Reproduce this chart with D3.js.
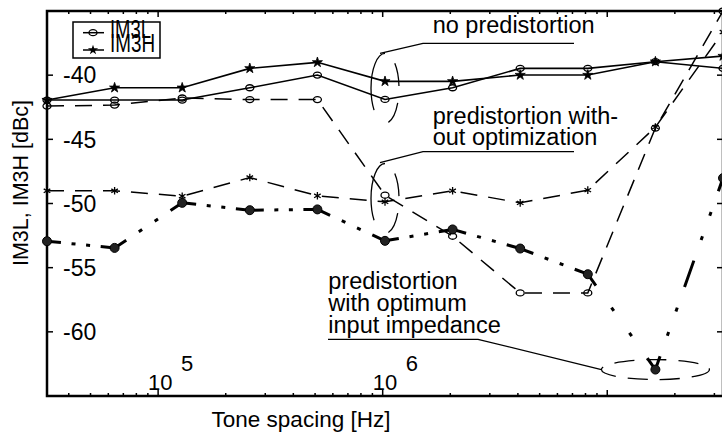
<!DOCTYPE html>
<html><head><meta charset="utf-8">
<script src="https://cdn.jsdelivr.net/npm/d3@7"></script>
<style>body{margin:0;background:#fff}svg{display:block}text{font-family:"Liberation Sans",Arial,Helvetica,sans-serif;fill:#000}</style>
</head><body>
<svg id="chart" width="722" height="434"></svg>
<script>
// ---- data ----
const toneSpacingHz = [32e3, 64e3, 128e3, 256e3, 512e3, 1.024e6, 2.048e6, 4.096e6, 8.192e6, 16.384e6, 32.768e6];
const im3lNoPredist   = [-41.94, -41.94, -41.94, -40.98, -39.99, -41.89, -40.98, -39.47, -39.47, -38.95, -39.47];
const im3hNoPredist   = [-41.94, -40.98, -40.98, -39.47, -39.00, -40.48, -40.48, -39.99, -39.99, -38.95, -38.51];
const im3lPredistNoOpt = [-42.41, -42.33, -41.78, -41.90, -41.90, -49.35, -52.55, -56.97, -56.97, -44.12, -35.00];
const im3hPredistNoOpt = [-49.01, -49.01, -49.43, -47.98, -49.40, -49.87, -49.01, -49.95, -48.96, -44.05, -36.64];
const im3PredistOptimum = [-52.94, -53.46, -49.95, -50.52, -50.46, -52.91, -52.02, -53.51, -55.51, -62.94, -48.02];
const yTickValues = [-60, -55, -50, -45, -40];
const yAxisTicks = [-65, -60, -55, -50, -45, -40, -35];
const xLabelDecades = [5, 6];
const legendLabels = ["IM3L", "IM3H"];
const annNoPredist = ["no predistortion"];
const annNoOpt = ["predistortion with-", "out optimization"];
const annOptimum = ["predistortion", "with optimum", "input impedance"];
const xTitle = "Tone spacing [Hz]";
const yTitle = "IM3L, IM3H [dBc]";

// ---- layout ----
const L = 47, R = 723, T = 11, B = 396;
const svg = d3.select("#chart");
const x = d3.scaleLog().domain([toneSpacingHz[0], toneSpacingHz[toneSpacingHz.length - 1]]).range([L, R]);
const y = d3.scaleLinear().domain([-65, -35]).range([B, T]);
const idx = d3.range(toneSpacingHz.length);

// axes frame
const ax = svg.append("g").attr("stroke", "#000").attr("stroke-width", 2.5).attr("fill", "none");
ax.append("path").attr("d", `M${L},${T}H${R}V${B}H${L}Z`);
// x ticks (top & bottom, inward)
const xt = x.ticks();
xt.forEach(v => {
  const major = Math.abs(Math.log10(v) - Math.round(Math.log10(v))) < 1e-9;
  const len = major ? 6 : 3;
  ax.append("line").attr("x1", x(v)).attr("x2", x(v)).attr("y1", B).attr("y2", B - len).attr("stroke-width", 1.5);
  ax.append("line").attr("x1", x(v)).attr("x2", x(v)).attr("y1", T).attr("y2", T + len).attr("stroke-width", 1.5);
});
// y ticks (left & right, inward)
yAxisTicks.forEach(v => {
  ax.append("line").attr("x1", L).attr("x2", L + 6).attr("y1", y(v)).attr("y2", y(v)).attr("stroke-width", 1.5);
  ax.append("line").attr("x1", R).attr("x2", R - 6).attr("y1", y(v)).attr("y2", y(v)).attr("stroke-width", 1.5);
});
// y tick labels
yTickValues.forEach(v => {
  svg.append("text").attr("x", 63).attr("y", y(v)).attr("dy", "0.36em").attr("font-size", 23).text(v);
});
// x tick labels 10^k
xLabelDecades.forEach(k => {
  const px = x(Math.pow(10, k));
  svg.append("text").attr("x", px - 10).attr("y", 390).attr("font-size", 22).text("10");
  svg.append("text").attr("x", px + 23).attr("y", 371).attr("font-size", 22).text(k);
});
// axis titles
svg.append("text").attr("x", 301).attr("y", 427).attr("text-anchor", "middle").attr("font-size", 22.5).text(xTitle);
svg.append("text").attr("transform", "translate(28,183) rotate(-90)").attr("text-anchor", "middle").attr("font-size", 21.5).text(yTitle);

// ---- series ----
const line = d3.line().x(i => x(toneSpacingHz[i])).y(i => y(this_vals[i]));
let this_vals;
function drawLine(vals, dash, w) {
  const g = d3.line().x(i => x(toneSpacingHz[i])).y(i => y(vals[i]));
  svg.append("path").attr("d", g(idx)).attr("fill", "none").attr("stroke", "#000")
    .attr("stroke-width", w).attr("stroke-dasharray", dash);
}
function circles(vals) {
  svg.append("g").selectAll("ellipse").data(idx).join("ellipse")
    .attr("cx", i => x(toneSpacingHz[i])).attr("cy", i => y(vals[i]))
    .attr("rx", 4).attr("ry", 3).attr("fill", "none").attr("stroke", "#000").attr("stroke-width", 1.3);
}
function symbols(vals, type, size, filled) {
  const s = d3.symbol(type, size);
  svg.append("g").selectAll("path").data(idx).join("path")
    .attr("transform", i => `translate(${x(toneSpacingHz[i])},${y(vals[i])})`)
    .attr("d", s()).attr("fill", filled ? "#000" : "none").attr("stroke", "#000").attr("stroke-width", filled ? 0.8 : 1.3);
}

// no predistortion (solid)
drawLine(im3lNoPredist, null, 1.6);
drawLine(im3hNoPredist, null, 1.6);
circles(im3lNoPredist);
symbols(im3hNoPredist, d3.symbolStar, 32, true);

// predistortion without optimization (dashed)
drawLine(im3lPredistNoOpt, "17,11", 1.5);
drawLine(im3hPredistNoOpt, "17,11", 1.5);
circles(im3lPredistNoOpt);
symbols(im3hPredistNoOpt, d3.symbolAsterisk, 40, false);

// predistortion with optimum impedance (thick dash-dot, per segment)
function dashDot(len) {
  const h = 14, d = 4;
  const n = Math.max(1, Math.round(len / 100));
  const per = len / n;
  const g = Math.max(1, (per - 2 * h - 2 * d) / 3);
  const arr = [h];
  for (let i = 0; i < n; i++) arr.push(g, d, g, d, g, i < n - 1 ? 2 * h : h);
  arr.push(len + 20);
  return arr.join(",");
}
for (let i = 0; i < toneSpacingHz.length - 1; i++) {
  const x1 = x(toneSpacingHz[i]), y1 = y(im3PredistOptimum[i]);
  const x2 = x(toneSpacingHz[i + 1]), y2 = y(im3PredistOptimum[i + 1]);
  const len = Math.hypot(x2 - x1, y2 - y1);
  svg.append("line").attr("x1", x1).attr("y1", y1).attr("x2", x2).attr("y2", y2)
    .attr("stroke", "#000").attr("stroke-width", 3).attr("stroke-dasharray", dashDot(len));
}
svg.append("g").selectAll("circle").data(idx).join("circle")
  .attr("cx", i => x(toneSpacingHz[i])).attr("cy", i => y(im3PredistOptimum[i]))
  .attr("r", 4.5).attr("fill", "#222").attr("stroke", "#000").attr("stroke-width", 1);

// ---- legend ----
const lg = svg.append("g");
lg.append("rect").attr("x", 73).attr("y", 22).attr("width", 87).attr("height", 36)
  .attr("fill", "none").attr("stroke", "#000").attr("stroke-width", 1.5);
[32.7, 50].forEach((ly, k) => {
  lg.append("line").attr("x1", 83).attr("x2", 104).attr("y1", ly).attr("y2", ly).attr("stroke", "#000").attr("stroke-width", 1.5);
  if (k === 0) lg.append("ellipse").attr("cx", 93).attr("cy", ly).attr("rx", 4).attr("ry", 3).attr("fill", "none").attr("stroke", "#000").attr("stroke-width", 1.3);
  else lg.append("path").attr("transform", `translate(93,${ly})`).attr("d", d3.symbol(d3.symbolStar, 32)()).attr("fill", "#000");
  lg.append("text").attr("x", 110).attr("y", k === 0 ? 38 : 52).attr("font-size", 26)
    .attr("textLength", k === 0 ? 41 : 45).attr("lengthAdjust", "spacingAndGlyphs").text(legendLabels[k]);
});

// ---- annotations ----
const an = svg.append("g").attr("stroke", "#000").attr("fill", "none").attr("stroke-width", 1.3);
function bracket(cx, cy) {
  const rx = 14, ry = 35;
  an.append("path")
    .attr("d", `M${cx},${cy - ry}A${rx},${ry} 0 1 0 ${cx},${cy + ry}A${rx},${ry} 0 1 0 ${cx},${cy - ry}`)
    .attr("stroke-dasharray", "62,22,22,17,23,30");
}
const xc = x(toneSpacingHz[5]);
bracket(xc, (y(im3lNoPredist[5]) + y(im3hNoPredist[5])) / 2 - 2);
bracket(xc, (y(im3lPredistNoOpt[5]) + y(im3hPredistNoOpt[5])) / 2);
an.append("path").attr("d", "M574,43.3H423L380,53.3");
an.append("path").attr("d", "M574,151.7H423L380,162.7");
const ex = x(toneSpacingHz[9]), ey = y(im3PredistOptimum[9]);
an.append("ellipse").attr("cx", ex).attr("cy", ey).attr("rx", 54).attr("ry", 10).attr("stroke-dasharray", "20,12");
an.append("path").attr("d", `M328,339.3H478L${ex - 54},${ey}`);

function textBlock(lines, x0, y0, dy) {
  lines.forEach((t, i) => svg.append("text").attr("x", x0).attr("y", y0 + i * dy).attr("font-size", 23.5).text(t));
}
textBlock(annNoPredist, 432.7, 33, 0);
textBlock(annNoOpt, 432.7, 124, 21);
textBlock(annOptimum, 328.3, 289, 22.2);
</script>
</body></html>
